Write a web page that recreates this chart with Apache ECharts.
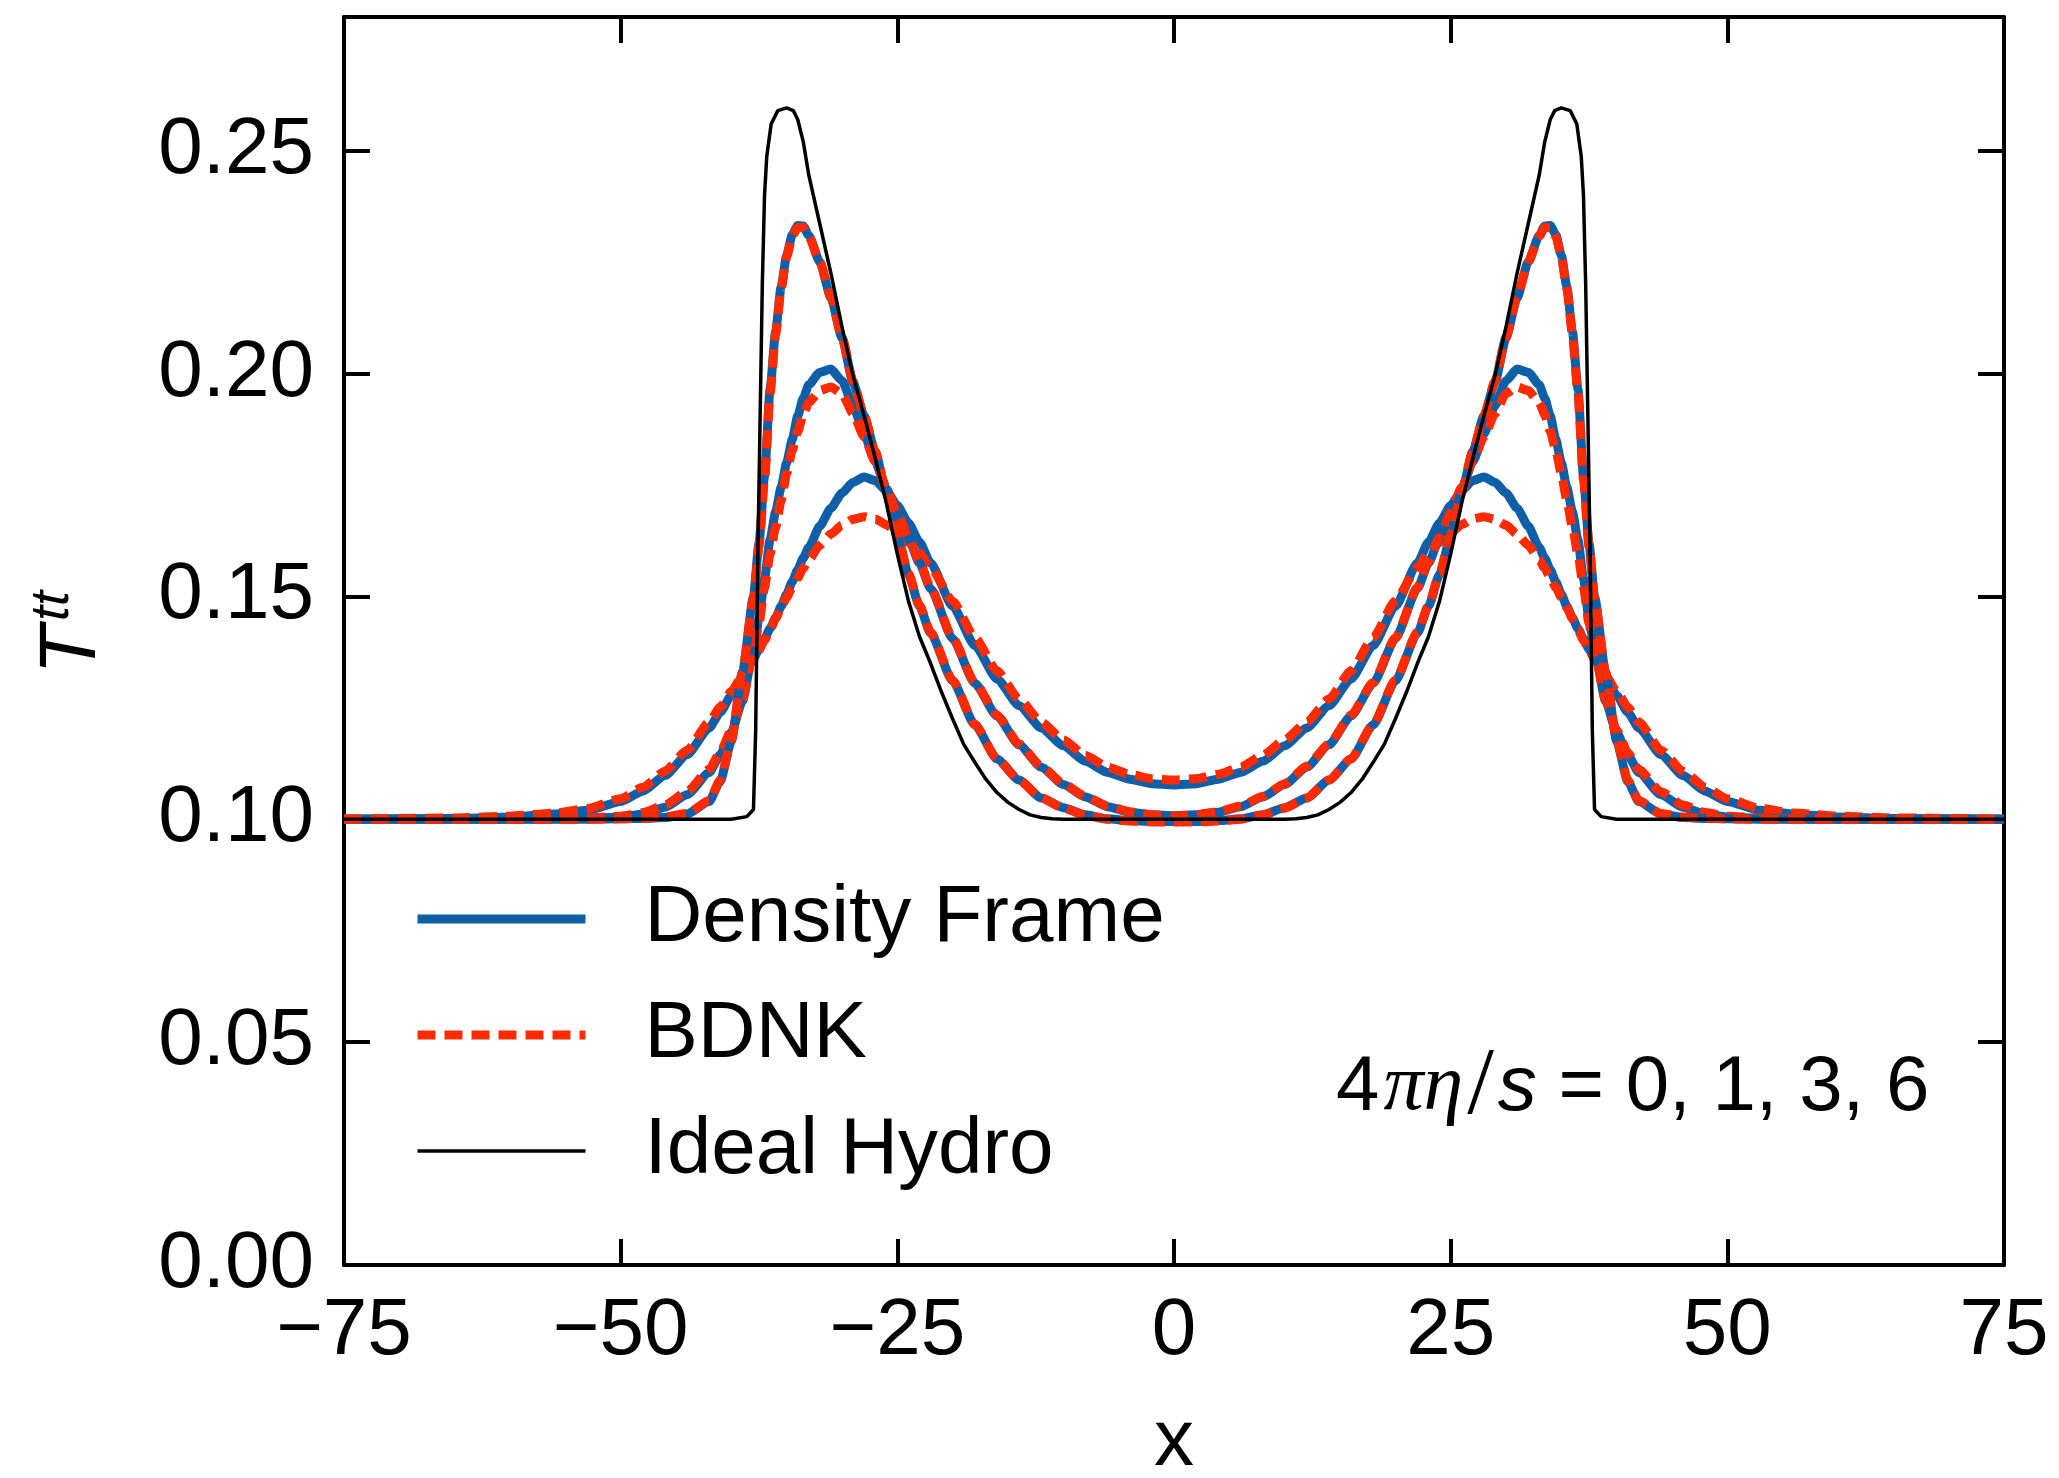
<!DOCTYPE html>
<html>
<head>
<meta charset="utf-8">
<script src="https://cdn.jsdelivr.net/npm/echarts@6/dist/echarts.min.js"></script>
<style>
html,body{margin:0;padding:0;background:#fff;}
#chart{width:2059px;height:1478px;}
</style>
</head>
<body>
<div id="chart"></div>
<script>
// x grid shared by the viscous curves
const xGrid = [-75,-65,-60,-56,-53,-50,-48,-46,-44,-42,-41,-40,-39,-38,-37.5,-37,-36.5,-36,-35.5,-35,-34.5,-34,-33.5,-33,-32,-31,-30,-29,-28,-27,-26,-25,-24,-23,-22,-20,-18,-16,-14,-12,-10,-8,-6,-4,-2,0,
  2,4,6,8,10,12,14,16,18,20,22,23,24,25,26,27,28,29,30,31,32,33,33.5,34,34.5,35,35.5,36,36.5,37,37.5,38,39,40,41,42,44,46,48,50,53,56,60,65,75];

// Density Frame, 4*pi*eta/s = 1, 3, 6
const densityEta1 = [0.1000,0.1000,0.1000,0.1000,0.1000,0.1001,0.1002,0.1004,0.1012,0.1040,0.1085,0.1175,0.1330,0.1500,0.1620,0.1770,0.1965,0.2095,0.2195,0.2265,0.2312,0.2332,0.2331,0.2310,0.2250,0.2170,0.2080,0.1980,0.1905,0.1825,0.1735,0.1635,0.1550,0.1478,0.1418,0.1310,0.1212,0.1135,0.1088,0.1048,0.1026,0.1010,0.1001,0.0997,0.0995,0.0995,
  0.0995,0.0997,0.1001,0.1010,0.1026,0.1048,0.1088,0.1135,0.1212,0.1310,0.1418,0.1478,0.1550,0.1635,0.1735,0.1825,0.1905,0.1980,0.2080,0.2170,0.2250,0.2310,0.2331,0.2332,0.2312,0.2265,0.2195,0.2095,0.1965,0.1770,0.1620,0.1500,0.1330,0.1175,0.1085,0.1040,0.1012,0.1004,0.1002,0.1001,0.1000,0.1000,0.1000,0.1000,0.1000];
const densityEta3 = [0.1000,0.1000,0.1000,0.1001,0.1002,0.1005,0.1012,0.1027,0.1055,0.1105,0.1145,0.1195,0.1265,0.1380,0.1450,0.1540,0.1627,0.1690,0.1745,0.1800,0.1852,0.1905,0.1945,0.1975,0.2003,0.2010,0.1984,0.1928,0.1864,0.1802,0.1742,0.1685,0.1630,0.1575,0.1518,0.1405,0.1305,0.1232,0.1167,0.1117,0.1078,0.1050,0.1028,0.1016,0.1010,0.1008,
  0.1010,0.1016,0.1028,0.1050,0.1078,0.1117,0.1167,0.1232,0.1305,0.1405,0.1518,0.1575,0.1630,0.1685,0.1742,0.1802,0.1864,0.1928,0.1984,0.2010,0.2003,0.1975,0.1945,0.1905,0.1852,0.1800,0.1745,0.1690,0.1627,0.1540,0.1450,0.1380,0.1265,0.1195,0.1145,0.1105,0.1055,0.1027,0.1012,0.1005,0.1002,0.1001,0.1000,0.1000,0.1000];
const densityEta6 = [0.1000,0.1002,0.1005,0.1012,0.1020,0.1040,0.1063,0.1098,0.1145,0.1205,0.1240,0.1278,0.1318,0.1360,0.1382,0.1405,0.1428,0.1452,0.1478,0.1505,0.1533,0.1560,0.1586,0.1610,0.1658,0.1698,0.1732,0.1756,0.1768,0.1760,0.1737,0.1704,0.1665,0.1622,0.1575,0.1478,0.1390,0.1315,0.1255,0.1205,0.1165,0.1130,0.1105,0.1090,0.1080,0.1077,
  0.1080,0.1090,0.1105,0.1130,0.1165,0.1205,0.1255,0.1315,0.1390,0.1478,0.1575,0.1622,0.1665,0.1704,0.1737,0.1760,0.1768,0.1756,0.1732,0.1698,0.1658,0.1610,0.1586,0.1560,0.1533,0.1505,0.1478,0.1452,0.1428,0.1405,0.1382,0.1360,0.1318,0.1278,0.1240,0.1205,0.1145,0.1098,0.1063,0.1040,0.1020,0.1012,0.1005,0.1002,0.1000];

// BDNK, 4*pi*eta/s = 1, 3, 6
const bdnkEta1 = [0.1000,0.1000,0.1000,0.1000,0.1000,0.1001,0.1002,0.1005,0.1013,0.1042,0.1088,0.1178,0.1330,0.1495,0.1612,0.1762,0.1955,0.2088,0.2190,0.2262,0.2308,0.2328,0.2328,0.2308,0.2250,0.2172,0.2082,0.1982,0.1905,0.1825,0.1735,0.1637,0.1552,0.1480,0.1420,0.1312,0.1213,0.1136,0.1088,0.1048,0.1025,0.1009,0.1000,0.0996,0.0994,0.0994,
  0.0994,0.0996,0.1000,0.1009,0.1025,0.1048,0.1088,0.1136,0.1213,0.1312,0.1420,0.1480,0.1552,0.1637,0.1735,0.1825,0.1905,0.1982,0.2082,0.2172,0.2250,0.2308,0.2328,0.2328,0.2308,0.2262,0.2190,0.2088,0.1955,0.1762,0.1612,0.1495,0.1330,0.1178,0.1088,0.1042,0.1013,0.1005,0.1002,0.1001,0.1000,0.1000,0.1000,0.1000,0.1000];
const bdnkEta3 = [0.1000,0.1000,0.1000,0.1001,0.1003,0.1007,0.1015,0.1032,0.1062,0.1112,0.1150,0.1200,0.1268,0.1375,0.1440,0.1520,0.1595,0.1655,0.1715,0.1775,0.1828,0.1870,0.1908,0.1935,0.1962,0.1970,0.1955,0.1910,0.1858,0.1803,0.1745,0.1688,0.1633,0.1578,0.1520,0.1407,0.1307,0.1234,0.1169,0.1119,0.1080,0.1051,0.1030,0.1017,0.1010,0.1007,
  0.1010,0.1017,0.1030,0.1051,0.1080,0.1119,0.1169,0.1234,0.1307,0.1407,0.1520,0.1578,0.1633,0.1688,0.1745,0.1803,0.1858,0.1910,0.1955,0.1970,0.1962,0.1935,0.1908,0.1870,0.1828,0.1775,0.1715,0.1655,0.1595,0.1520,0.1440,0.1375,0.1268,0.1200,0.1150,0.1112,0.1062,0.1032,0.1015,0.1007,0.1003,0.1001,0.1000,0.1000,0.1000];
const bdnkEta6 = [0.1000,0.1003,0.1007,0.1014,0.1024,0.1046,0.1072,0.1108,0.1155,0.1218,0.1252,0.1287,0.1322,0.1360,0.1380,0.1402,0.1425,0.1450,0.1475,0.1498,0.1520,0.1542,0.1563,0.1582,0.1615,0.1640,0.1660,0.1673,0.1679,0.1674,0.1661,0.1643,0.1621,0.1597,0.1565,0.1490,0.1408,0.1333,0.1270,0.1218,0.1178,0.1143,0.1117,0.1101,0.1091,0.1088,
  0.1091,0.1101,0.1117,0.1143,0.1178,0.1218,0.1270,0.1333,0.1408,0.1490,0.1565,0.1597,0.1621,0.1643,0.1661,0.1674,0.1679,0.1673,0.1660,0.1640,0.1615,0.1582,0.1563,0.1542,0.1520,0.1498,0.1475,0.1450,0.1425,0.1402,0.1380,0.1360,0.1322,0.1287,0.1252,0.1218,0.1155,0.1108,0.1072,0.1046,0.1024,0.1014,0.1007,0.1003,0.1000];

// Ideal hydro (own x grid)
const idealX = [-75,-40,-38.6,-38.0,-37.8,-37.6,-37.4,-37.2,-37.0,-36.8,-36.4,-35.8,-35.0,-34.4,-34.0,-33.5,-33.0,-32,-31,-30,-29,-28,-27,-26,-25,-24,-23,-22,-21,-20,-19,-18,-17,-16,-15,-14,-13,-12,-11,-10,0,
  10,11,12,13,14,15,16,17,18,19,20,21,22,23,24,25,26,27,28,29,30,31,32,33.0,33.5,34.0,34.4,35.0,35.8,36.4,36.8,37.0,37.2,37.4,37.6,37.8,38.0,38.6,40,75];
const idealY = [0.1000,0.1000,0.1006,0.1022,0.1200,0.1600,0.1900,0.2200,0.2400,0.2487,0.2560,0.2590,0.2596,0.2590,0.2570,0.2520,0.2445,0.2335,0.2225,0.2105,0.1995,0.1905,0.1810,0.1710,0.1595,0.1490,0.1410,0.1350,0.1285,0.1225,0.1168,0.1128,0.1090,0.1060,0.1038,0.1022,0.1010,0.1004,0.1001,0.1000,0.1000,
  0.1000,0.1001,0.1004,0.1010,0.1022,0.1038,0.1060,0.1090,0.1128,0.1168,0.1225,0.1285,0.1350,0.1410,0.1490,0.1595,0.1710,0.1810,0.1905,0.1995,0.2105,0.2225,0.2335,0.2445,0.2520,0.2570,0.2590,0.2596,0.2590,0.2560,0.2487,0.2400,0.2200,0.1900,0.1600,0.1200,0.1022,0.1006,0.1000,0.1000];

const xTicks = [-75,-50,-25,0,25,50,75];
const yTicks = [0.00,0.05,0.10,0.15,0.20,0.25];
const legendNames = ['Density Frame','BDNK','Ideal Hydro'];

const BLUE = '#0f5fa8', RED = '#ff2b00', BLACK = '#000000';
const FONT = '"Liberation Sans", Arial, Helvetica, sans-serif';

function zip(xs, ys) {
  const n = Math.min(xs.length, ys.length);
  if (xs.length !== ys.length) console.warn('length mismatch', xs.length, ys.length);
  const out = [];
  for (let i = 0; i < n; i++) out.push([xs[i], ys[i]]);
  return out;
}

function viscous(name, ys, color, dashed, z) {
  return {
    type: 'line', name: name, data: zip(xGrid, ys),
    symbol: 'none', smooth: 0.2, smoothMonotone: 'x', z: z,
    lineStyle: { color: color, width: 9, type: dashed ? [18, 9] : 'solid', cap: 'butt' },
    itemStyle: { color: color },
    emphasis: { disabled: true }
  };
}

const series = [
  viscous(legendNames[0], densityEta6, BLUE, false, 2),
  viscous(legendNames[1], bdnkEta6, RED, true, 3),
  viscous(legendNames[0], densityEta3, BLUE, false, 4),
  viscous(legendNames[1], bdnkEta3, RED, true, 5),
  viscous(legendNames[0], densityEta1, BLUE, false, 6),
  viscous(legendNames[1], bdnkEta1, RED, true, 7),
  {
    type: 'line', name: legendNames[2], data: zip(idealX, idealY),
    symbol: 'none', smooth: false, z: 8,
    lineStyle: { color: BLACK, width: 3.5 },
    itemStyle: { color: BLACK },
    emphasis: { disabled: true }
  }
];

const chart = echarts.init(document.getElementById('chart'), null, { renderer: 'canvas' });

function axisCommon() {
  return {
    axisLine: { show: true, onZero: false, lineStyle: { color: '#000', width: 4 } },
    axisTick: { show: true, inside: true, length: 26, lineStyle: { color: '#000', width: 4 } },
    splitLine: { show: false }
  };
}

const option = {
  animation: false,
  backgroundColor: '#ffffff',
  grid: { left: 344, right: 55, top: 17, bottom: 213, containLabel: false, outerBoundsMode: 'none' },
  xAxis: [
    Object.assign({
      type: 'value', min: xTicks[0], max: xTicks[xTicks.length - 1], interval: 25, position: 'bottom',
      axisLabel: {
        show: true, margin: 27, fontSize: 80, fontFamily: FONT, color: '#000',
        formatter: v => (v < 0 ? '\u2212' + Math.abs(v) : String(v))
      },
      name: 'x', nameLocation: 'middle', nameGap: 138,
      nameTextStyle: { fontSize: 80, fontFamily: FONT, color: '#000' }
    }, axisCommon()),
    Object.assign({
      type: 'value', min: xTicks[0], max: xTicks[xTicks.length - 1], interval: 25, position: 'top',
      axisLabel: { show: false }
    }, axisCommon())
  ],
  yAxis: [
    Object.assign({
      type: 'value', min: yTicks[0], max: 0.28, interval: 0.05, position: 'left',
      axisLabel: {
        show: true, margin: 30, fontSize: 80, fontFamily: FONT, color: '#000',
        showMaxLabel: false,
        formatter: v => (yTicks.some(t => Math.abs(t - v) < 1e-9) ? v.toFixed(2) : '')
      }
    }, axisCommon()),
    Object.assign({
      type: 'value', min: yTicks[0], max: 0.28, interval: 0.05, position: 'right',
      axisLabel: { show: false }
    }, axisCommon())
  ],
  legend: {
    data: legendNames, orient: 'vertical', left: 413, top: 874, padding: 0,
    itemWidth: 168, itemHeight: 2, itemGap: 26,
    selectedMode: false,
    itemStyle: { opacity: 0 },
    lineStyle: { width: 'inherit', type: 'inherit', color: 'inherit', opacity: 1 },
    textStyle: { fontSize: 80, fontFamily: FONT, color: '#000', lineHeight: 90, padding: [0, 0, 0, 54] }
  },
  graphic: [
    {
      type: 'text', left: 1336, top: 1040, z: 100,
      style: {
        text: '{a|4}{g|\u03c0\u03b7}{sl|/}{s|s}{a| = 0, 1, 3, 6}',
        rich: {
          a: { fontSize: 78, fontFamily: FONT, fill: '#000', lineHeight: 96 },
          g: { fontSize: 80, fontFamily: '"Liberation Serif", "DejaVu Serif", serif', fontStyle: 'italic', fill: '#000', lineHeight: 96, padding: [0, 2, 0, 4] },
          sl: { fontSize: 96, fontFamily: '"Liberation Serif", serif', fill: '#000', lineHeight: 96, padding: [0, 4, 0, 2] },
          s: { fontSize: 78, fontFamily: FONT, fontStyle: 'italic', fill: '#000', lineHeight: 96 }
        }
      }
    },
    {
      type: 'text', x: 73, y: 650, rotation: Math.PI / 2, z: 100,
      style: { text: 'T', fontSize: 80, fontFamily: FONT, fontStyle: 'italic', fill: '#000', align: 'center', verticalAlign: 'middle' }
    },
    {
      type: 'text', x: 53, y: 606, rotation: Math.PI / 2, z: 100,
      style: { text: 'tt', fontSize: 54, fontFamily: FONT, fontStyle: 'italic', fill: '#000', align: 'center', verticalAlign: 'middle' }
    }
  ],
  series: series
};

chart.setOption(option);
</script>
</body>
</html>
